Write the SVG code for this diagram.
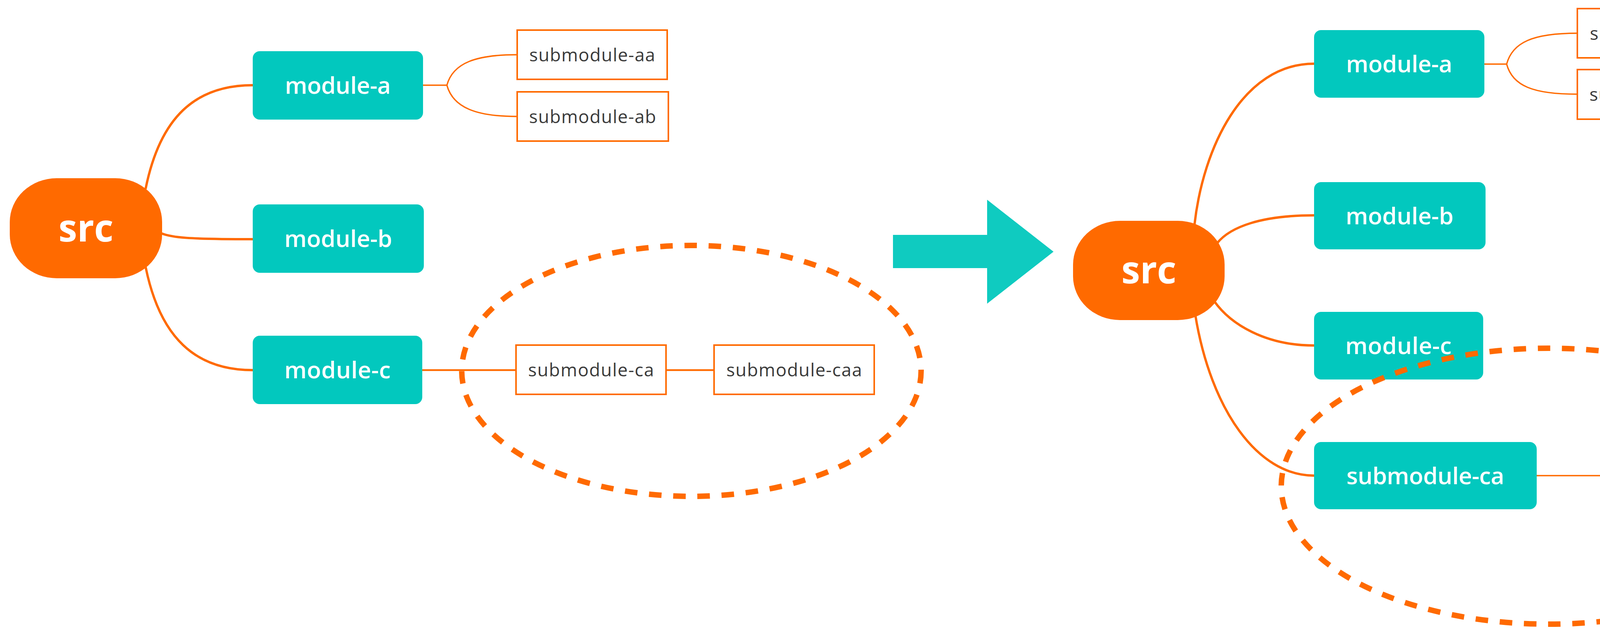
<svg xmlns="http://www.w3.org/2000/svg" width="4660" height="1612" viewBox="0 0 4660 1612">
  <style>
    .root rect { fill: #FF6A00; }
    .root text { font-family: "Open Sans", "Liberation Sans", sans-serif; font-weight: 700; font-size: 96px; fill: #FFFFFF; text-anchor: middle; }
    .mod rect { fill: #02C8BE; }
    .mod text { font-family: "Open Sans", "Liberation Sans", sans-serif; font-weight: 600; font-size: 60px; fill: #FFFFFF; text-anchor: middle; }
    .sub rect { fill: #FFFFFF; stroke: #FF6A00; stroke-width: 4; }
    .sub text { font-family: "Open Sans", "Liberation Sans", sans-serif; font-weight: 400; font-size: 46px; fill: #3A3A3A; text-anchor: middle; }
    .main { fill: none; stroke: #FF6A00; stroke-width: 6; stroke-linecap: round; }
    .thin { fill: none; stroke: #FF6A00; stroke-width: 3.5; }
    .ring { fill: none; stroke: #FF6A00; stroke-width: 14; stroke-dasharray: 32 30; }
  </style>

  <!-- connectors -->
  <g id="connectors">
    <!-- left tree -->
    <path class="main" d="M373,482 C410,300 500,218 647,218"/>
    <path class="main" d="M413,597 C440,608 480,612 647,612"/>
    <path class="main" d="M373,684 C410,864 500,947 647,947"/>
    <path class="thin" d="M1083,218 H1144 M1144,218 C1160,160 1220,140 1324,140 M1144,218 C1160,276 1220,298 1324,298"/>
    <path class="thin" d="M1081,947 H1321 M1705,947 H1828" style="stroke-width:4.5"/>
    <!-- right tree -->
    <path class="main" d="M3058,574 C3080,380 3180,163 3364,163"/>
    <path class="main" d="M3116,622 C3150,580 3230,551 3364,551"/>
    <path class="main" d="M3108,770 C3150,830 3240,884 3364,884"/>
    <path class="main" d="M3060,806 C3100,1050 3220,1217 3364,1217"/>
    <path class="thin" d="M3800,164 H3857 M3857,164 C3872,108 3925,85 4038,85 M3857,164 C3872,220 3925,241 4038,241"/>
    <path class="thin" d="M3934,1217 H4172"/>
  </g>

  <!-- left diagram nodes -->
  <g id="src-left" class="root">
    <rect x="25" y="456" width="390" height="256" rx="120" ry="112"/>
    <text x="220" y="618">src</text>
  </g>
  <g id="module-a-left" class="mod">
    <rect x="647" y="131" width="436" height="175" rx="18"/>
    <text x="865" y="240" textLength="271">module-a</text>
  </g>
  <g id="module-b-left" class="mod">
    <rect x="647" y="523" width="438" height="175" rx="18"/>
    <text x="866" y="632" textLength="276">module-b</text>
  </g>
  <g id="module-c-left" class="mod">
    <rect x="647" y="859" width="434" height="175" rx="18"/>
    <text x="864" y="968" textLength="272">module-c</text>
  </g>
  <g id="submodule-aa-left" class="sub">
    <rect x="1324" y="77" width="384" height="126"/>
    <text x="1516" y="157" textLength="322">submodule-aa</text>
  </g>
  <g id="submodule-ab-left" class="sub">
    <rect x="1324" y="235" width="387" height="126"/>
    <text x="1517" y="315" textLength="325">submodule-ab</text>
  </g>
  <g id="submodule-ca-left" class="sub">
    <rect x="1321" y="883" width="384" height="126"/>
    <text x="1513" y="963" textLength="322">submodule-ca</text>
  </g>
  <g id="submodule-caa-left" class="sub">
    <rect x="1828" y="883" width="410" height="126"/>
    <text x="2033" y="963" textLength="347">submodule-caa</text>
  </g>
  <g id="highlight-left">
    <ellipse class="ring" cx="1770" cy="949" rx="588" ry="321"/>
  </g>

  <!-- transition arrow -->
  <g id="arrow">
    <polygon points="2286,601 2527,601 2527,511 2697,644 2527,777 2527,686 2286,686" fill="#0FCBC0"/>
  </g>

  <!-- right diagram nodes -->
  <g id="src-right" class="root">
    <rect x="2747" y="565" width="388" height="254" rx="120" ry="112"/>
    <text x="2941" y="725">src</text>
  </g>
  <g id="module-a-right" class="mod">
    <rect x="3364" y="77" width="436" height="173" rx="18"/>
    <text x="3582" y="185" textLength="272">module-a</text>
  </g>
  <g id="module-b-right" class="mod">
    <rect x="3364" y="466" width="439" height="172" rx="18"/>
    <text x="3583" y="574" textLength="276">module-b</text>
  </g>
  <g id="module-c-right" class="mod">
    <rect x="3364" y="798" width="433" height="173" rx="18"/>
    <text x="3580" y="906" textLength="272">module-c</text>
  </g>
  <g id="submodule-ca-right" class="mod">
    <rect x="3364" y="1131" width="570" height="172" rx="18"/>
    <text x="3649" y="1239" textLength="404">submodule-ca</text>
  </g>
  <g id="submodule-aa-right" class="sub">
    <rect x="4038" y="22" width="382" height="126"/>
    <text x="4229" y="102" textLength="318">submodule-aa</text>
  </g>
  <g id="submodule-ab-right" class="sub">
    <rect x="4038" y="178" width="384" height="127"/>
    <text x="4230" y="258" textLength="322">submodule-ab</text>
  </g>
  <g id="submodule-caa-right" class="sub">
    <rect x="4172" y="1154" width="408" height="127"/>
    <text x="4376" y="1234" textLength="343">submodule-caa</text>
  </g>
  <g id="highlight-right">
    <ellipse class="ring" cx="3965" cy="1244" rx="685" ry="353"/>
  </g>
</svg>
